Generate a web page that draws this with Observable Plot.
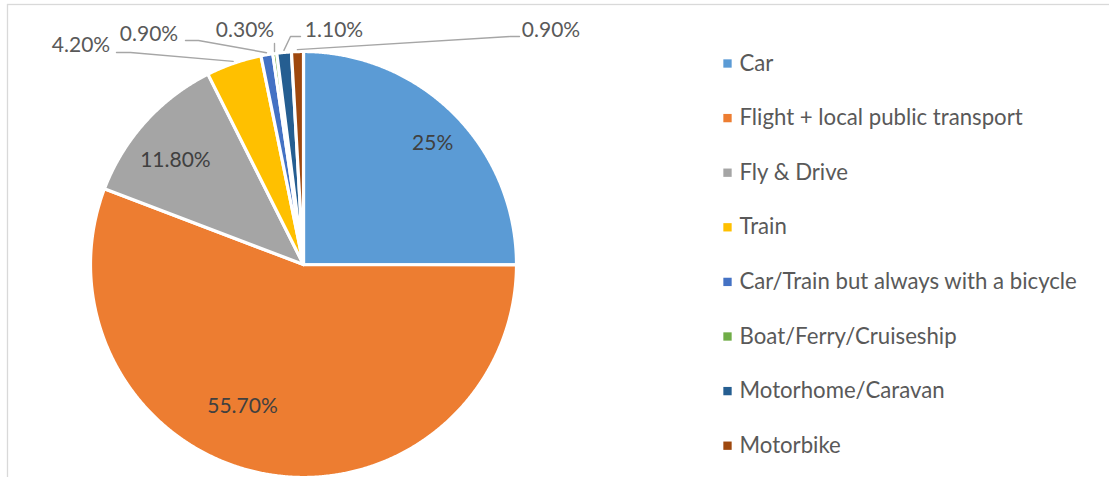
<!DOCTYPE html>
<html>
<head>
<meta charset="utf-8">
<script src="https://cdn.jsdelivr.net/npm/d3@7"></script>
<script src="https://cdn.jsdelivr.net/npm/@observablehq/plot@0.6"></script>
<style>
  html, body { margin: 0; padding: 0; background: #fff; }
  #chart svg { display: block; }
</style>
</head>
<body>
<div id="chart"></div>
<script>
// ---- data ----
const categories = [
  "Car",
  "Flight + local public transport",
  "Fly & Drive",
  "Train",
  "Car/Train but always with a bicycle",
  "Boat/Ferry/Cruiseship",
  "Motorhome/Caravan",
  "Motorbike"
];
const shares = [25, 55.7, 11.8, 4.2, 0.9, 0.3, 1.1, 0.9];
const shareLabels = ["25%", "55.70%", "11.80%", "4.20%", "0.90%", "0.30%", "1.10%", "0.90%"];
const colors = ["#5B9BD5", "#ED7D31", "#A5A5A5", "#FFC000", "#4472C4", "#70AD47", "#255E91", "#9E480E"];

// ---- layout ----
const W = 1109, H = 477;
const pie = {cx: 303, cy: 264, r: 213};
const font = "Lato, 'Open Sans', sans-serif";
// inside labels: angle nudge (deg) and distance from centre (px)
const insideLayout = new Map([[0, {dAngle: 1.8, dist: 177}], [1, {dAngle: 12.8, dist: 154.5}], [2, {dAngle: -3, dist: 165}]]);
// outside labels: label centre, leader start and elbow
const outsideLayout = new Map([
  [3, {tx: 80.5, ty: 45, from: [116, 52], elbow: [130, 52]}],
  [4, {tx: 148.5, ty: 34, from: [185, 40], elbow: [198, 40]}],
  [5, {tx: 244.5, ty: 30, from: [274, 43], elbow: [274, 43]}],
  [6, {tx: 333.5, ty: 30, from: [300, 36], elbow: [290, 36]}],
  [7, {tx: 550.5, ty: 30, from: [519, 36], elbow: [510, 36]}]
]);
const legend = {sx: 727, tx: 739, y0: 63, dy: 54.6};

// ---- geometry from data ----
const arcs = d3.pie().sort(null).startAngle(0).endAngle(2 * Math.PI)(shares);
const polar = (a, r) => ({x: pie.cx + r * Math.sin(a), y: pie.cy - r * Math.cos(a)});

const slicePts = [];
arcs.forEach((a, i) => {
  const cat = categories[i];
  slicePts.push({cat, ...polar(0, 0)});
  const n = Math.max(2, Math.ceil((a.endAngle - a.startAngle) / 0.005));
  for (let k = 0; k <= n; k++) {
    const t = a.startAngle + (a.endAngle - a.startAngle) * k / n;
    slicePts.push({cat, ...polar(t, pie.r)});
  }
  slicePts.push({cat, ...polar(0, 0)});
});

const insideLabels = [];
const outsideLabels = [];
const leaderPts = [];
arcs.forEach((a, i) => {
  const mid = (a.startAngle + a.endAngle) / 2;
  if (insideLayout.has(i)) {
    const L = insideLayout.get(i);
    insideLabels.push({text: shareLabels[i], ...polar(mid + L.dAngle * Math.PI / 180, L.dist)});
  } else if (outsideLayout.has(i)) {
    const L = outsideLayout.get(i);
    outsideLabels.push({text: shareLabels[i], x: L.tx, y: L.ty});
    const edge = polar(mid, pie.r + 2);
    leaderPts.push({id: i, x: L.from[0], y: L.from[1]});
    leaderPts.push({id: i, x: L.elbow[0], y: L.elbow[1]});
    leaderPts.push({id: i, x: edge.x, y: edge.y});
  }
});

const chart = Plot.plot({
  width: W,
  height: H,
  margin: 0,
  style: {fontFamily: font, background: "#fff"},
  x: {domain: [0, W], range: [0, W], axis: null},
  y: {domain: [0, H], range: [0, H], axis: null},
  color: {domain: categories, range: colors},
  marks: [
    Plot.frame({stroke: "#D9D9D9", strokeWidth: 1.3, insetLeft: 7, insetTop: 4, insetRight: -5, insetBottom: -5}),
    Plot.line(slicePts, {x: "x", y: "y", z: "cat", fill: "cat", stroke: "#fff", strokeWidth: 3.2, strokeLinejoin: "round", curve: "linear"}),
    Plot.line(leaderPts, {x: "x", y: "y", z: "id", stroke: "#A6A6A6", strokeWidth: 1.4}),
    Plot.text(insideLabels, {x: "x", y: "y", text: "text", fill: "#404040", fontSize: 21}),
    Plot.text(outsideLabels, {x: "x", y: "y", text: "text", fill: "#595959", fontSize: 21}),
    Plot.dot(categories, {x: () => legend.sx, y: (d, i) => legend.y0 + i * legend.dy, fill: d => d, symbol: "square", r: 4.7}),
    Plot.text(categories, {x: () => legend.tx, y: (d, i) => legend.y0 + i * legend.dy, text: d => d, textAnchor: "start", fill: "#595959", fontSize: 22.2})
  ]
});
document.getElementById("chart").appendChild(chart);
</script>
</body>
</html>
